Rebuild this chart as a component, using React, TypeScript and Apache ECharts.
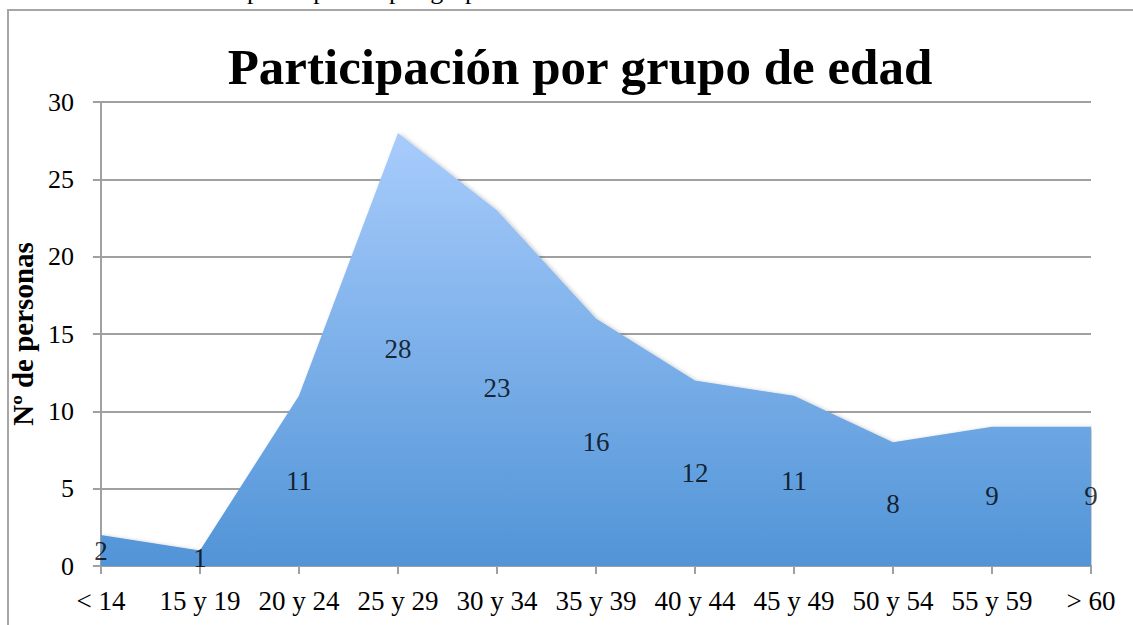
import React, { useEffect, useRef } from "react";
import * as echarts from "echarts";

const categories = ["< 14", "15 y 19", "20 y 24", "25 y 29", "30 y 34", "35 y 39", "40 y 44", "45 y 49", "50 y 54", "55 y 59", "> 60"];
const participantes = [2, 1, 11, 28, 23, 16, 12, 11, 8, 9, 9];
const yTicks = { min: 0, max: 30, interval: 5 };
const titleText = "Participación por grupo de edad";
const yAxisTitle = "Nº de personas";
const captionText = "Gráfico 3. Ámbito de participación por grupo de edad";

const FONT = "'Liberation Serif', 'Times New Roman', serif";

export default function App() {
  const ref = useRef<HTMLDivElement>(null);
  useEffect(() => {
    if (!ref.current) return;
    const chart = echarts.init(ref.current, null, { renderer: "svg" });
    const labelPoints = participantes.map((v, i) => ({ value: [i, v / 2], raw: v }));
    chart.setOption({
      animation: false,
      backgroundColor: "#ffffff",
      textStyle: { fontFamily: FONT },
      title: {
        text: titleText,
        left: 575,
        top: 36,
        textAlign: "center",
        textStyle: { fontFamily: FONT, fontWeight: "bold", fontSize: 51, color: "#000" },
      },
      graphic: [
        {
          type: "rect",
          shape: { x: 8, y: 10, width: 1400, height: 900 },
          style: { fill: "none", stroke: "#a6a6a6", lineWidth: 2 },
          silent: true,
        },
        {
          type: "text",
          x: 18,
          y: 3,
          style: {
            text: captionText,
            fontFamily: FONT,
            fontSize: 26,
            fill: "#000",
            textVerticalAlign: "bottom",
          },
        },
      ],
      grid: { left: 100, right: 42, top: 102, bottom: 59, containLabel: false },
      xAxis: {
        type: "category",
        data: categories,
        boundaryGap: false,
        axisLine: { show: true, lineStyle: { color: "#a0a0a0", width: 2 } },
        axisTick: { show: true, length: 8, lineStyle: { color: "#a0a0a0", width: 2 } },
        axisLabel: { color: "#000", fontFamily: FONT, fontSize: 27, margin: 21, interval: 0 },
        splitLine: { show: false },
      },
      yAxis: {
        type: "value",
        min: yTicks.min,
        max: yTicks.max,
        interval: yTicks.interval,
        name: yAxisTitle,
        nameLocation: "middle",
        nameRotate: 90,
        nameGap: 48,
        nameTextStyle: { fontFamily: FONT, fontWeight: "bold", fontSize: 29, color: "#000" },
        axisLine: { show: true, lineStyle: { color: "#a0a0a0", width: 2 } },
        axisTick: { show: true, length: 8, lineStyle: { color: "#a0a0a0", width: 2 } },
        axisLabel: { color: "#000", fontFamily: FONT, fontSize: 26, margin: 27 },
        splitLine: { show: true, lineStyle: { color: "#a0a0a0", width: 2 } },
      },
      series: [
        {
          type: "line",
          data: participantes,
          symbol: "none",
          lineStyle: { width: 0 },
          areaStyle: {
            opacity: 1,
            color: new echarts.graphic.LinearGradient(0, 0, 0, 1, [
              { offset: 0, color: "#a8ccfc" },
              { offset: 1, color: "#5194d7" },
            ]),
            shadowColor: "rgba(0,0,0,0.25)",
            shadowBlur: 4,
            shadowOffsetX: 2,
            shadowOffsetY: 1,
          },
          z: 2,
        },
        {
          type: "scatter",
          data: labelPoints,
          symbolSize: 1,
          itemStyle: { color: "rgba(0,0,0,0)" },
          label: {
            show: true,
            position: "inside",
            formatter: (p: any) => String(p.data.raw),
            color: "#000",
            fontFamily: FONT,
            fontSize: 27,
          },
          z: 3,
        },
      ],
    });
    return () => chart.dispose();
  }, []);
  return (
    <div
      ref={ref}
      style={{ position: "absolute", left: 0, top: 0, width: 1133, height: 625 }}
    />
  );
}
